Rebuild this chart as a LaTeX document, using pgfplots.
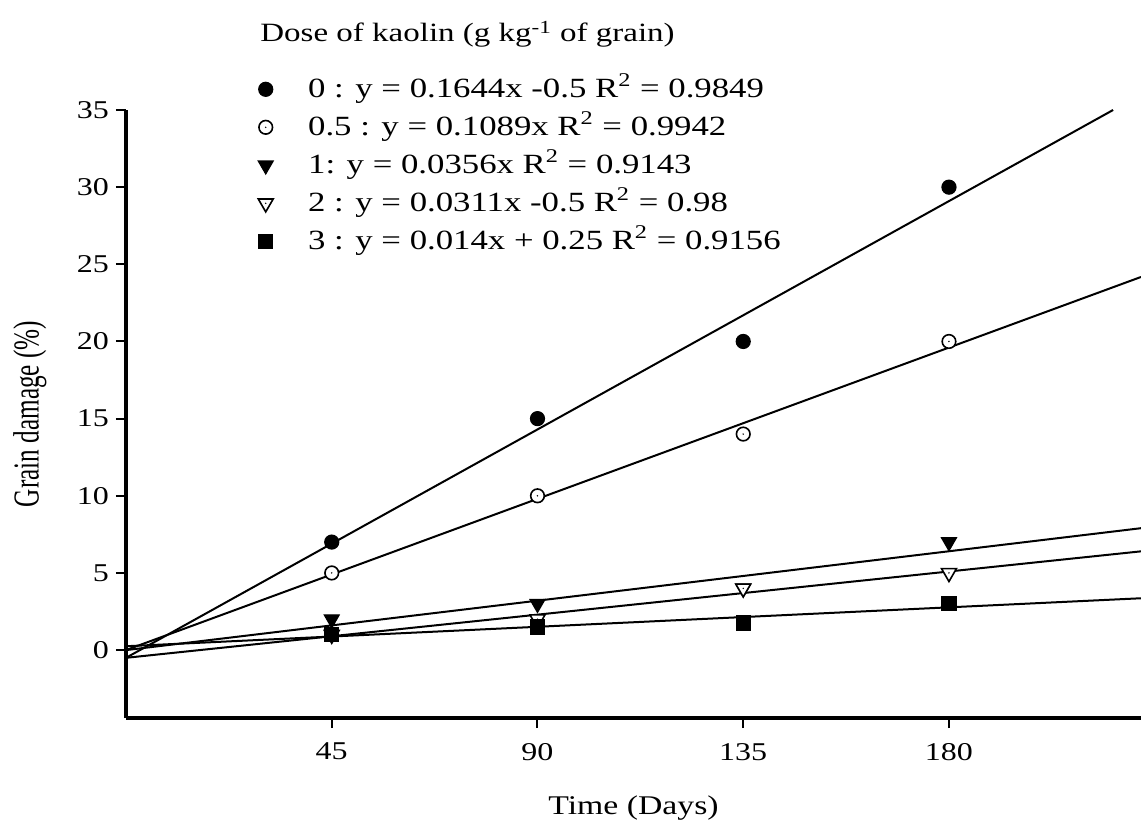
\documentclass[border=0pt]{standalone}
\usepackage{graphicx}
\usepackage{pgfplots}
\pgfplotsset{compat=1.18}
\usepackage{fontspec}
\setmainfont[FakeStretch=1.25]{Liberation Serif}
\newfontfamily\ylabfont{Liberation Serif}

\pgfdeclareplotmark{dotcircle}{%
  \pgfpathcircle{\pgfpointorigin}{\pgfplotmarksize}%
  \pgfusepathqfillstroke
  \pgfscope
  \pgfsetfillcolor{black}%
  \pgfpathcircle{\pgfpointorigin}{0.4pt}%
  \pgfusepathqfill
  \endpgfscope}
\pgfdeclareplotmark{dottriangle}{%
  \pgfpathmoveto{\pgfqpoint{0pt}{-\pgfplotmarksize}}%
  \pgfpathlineto{\pgfqpointpolar{30}{\pgfplotmarksize}}%
  \pgfpathlineto{\pgfqpointpolar{150}{\pgfplotmarksize}}%
  \pgfpathclose
  \pgfusepathqfillstroke
  \pgfscope
  \pgfsetfillcolor{black}%
  \pgfpathcircle{\pgfpointorigin}{0.4pt}%
  \pgfusepathqfill
  \endpgfscope}
\pgfdeclareplotmark{filltriangle}{%
  \pgfpathmoveto{\pgfqpoint{0pt}{-\pgfplotmarksize}}%
  \pgfpathlineto{\pgfqpointpolar{30}{\pgfplotmarksize}}%
  \pgfpathlineto{\pgfqpointpolar{150}{\pgfplotmarksize}}%
  \pgfpathclose
  \pgfusepathqfillstroke}

\begin{document}
\begin{tikzpicture}
\useasboundingbox (-63pt,-51pt) rectangle (507.5pt,359pt);
\begin{axis}[
  scale only axis, width=507.5pt, height=304pt,
  at={(0pt,0pt)}, anchor=south west,
  xmin=0, xmax=222, ymin=-4.4, ymax=35,
  axis lines*=left,
  axis line style={line width=2pt},
  xtick={45,90,135,180}, ytick={0,5,...,35},
  tick align=outside, major tick length=5pt,
  tick style={line width=1pt, black},
  ticklabel style={font=\fontsize{12.8}{14}\selectfont},
  xticklabel style={yshift=-4pt},
  /pgf/number format/assume math mode=true,
  xlabel={Time (Days)},
  xlabel style={font=\fontsize{13.5}{16}\selectfont, at={(axis description cs:0.5,0)}, anchor=base, yshift=-48pt},
  ylabel={\ylabfont\fontsize{12.6}{14}\selectfont\scalebox{1}[1.45]{Grain damage (\%)}},
  ylabel style={at={(axis description cs:-0.0946,0.5)}, anchor=center},
  clip=false,
  legend image code/.code={\draw[#1] plot coordinates {(0pt,0pt)}; \path (-4pt,0pt) (20pt,0pt);},
  legend cell align=left,
  legend style={at={(axis description cs:0.129,1.061)}, anchor=north west, draw=none, fill=none,
    inner sep=0pt, row sep=3pt, font=\fontsize{13.9}{16}\selectfont,
    nodes={text height=11pt, text depth=3pt, inner sep=1pt}},
]
% fitted regression lines
\addplot[black, line width=1pt, forget plot] coordinates {(0,-0.5) (215.9,35)};
\addplot[black, line width=1pt, forget plot] coordinates {(0,0) (222,24.18)};
\addplot[black, line width=1pt, forget plot] coordinates {(0,0) (222,7.90)};
\addplot[black, line width=1pt, forget plot] coordinates {(0,-0.5) (222,6.40)};
\addplot[black, line width=1pt, forget plot] coordinates {(0,0.25) (222,3.36)};
% observed data
\addplot[only marks, mark=*, mark size=3.5pt, mark options={fill=black, draw=black, line width=0.6pt}]
  coordinates {(45,7) (90,15) (135,20) (180,30)};
\addlegendentry{0 : y = 0.1644x -0.5 R\textsuperscript{2} = 0.9849}
\addplot[only marks, mark=dotcircle, mark size=3.4pt, mark options={fill=white, draw=black, line width=0.8pt}]
  coordinates {(45,5) (90,10) (135,14) (180,20)};
\addlegendentry{0.5 : y = 0.1089x R\textsuperscript{2} = 0.9942}
\addplot[only marks, mark=filltriangle, mark size=4.3pt, mark options={fill=black, draw=black, line width=0.6pt}]
  coordinates {(45,2) (90,3) (135,4) (180,7)};
\addlegendentry{1: y = 0.0356x R\textsuperscript{2} = 0.9143}
\addplot[only marks, mark=dottriangle, mark size=4.3pt, mark options={fill=white, draw=black, line width=0.8pt}]
  coordinates {(45,1) (90,2) (135,4) (180,5)};
\addlegendentry{2 : y = 0.0311x -0.5 R\textsuperscript{2} = 0.98}
\addplot[only marks, mark=square*, mark size=3.5pt, mark options={fill=black, draw=black, line width=0.6pt}]
  coordinates {(45,1) (90,1.5) (135,1.75) (180,3)};
\addlegendentry{3 : y = 0.014x + 0.25 R\textsuperscript{2} = 0.9156}
\node[anchor=base west, inner sep=0pt, font=\fontsize{13.2}{16}\selectfont] at (rel axis cs:0.132,1.112)
  {Dose of kaolin (g kg\textsuperscript{-1} of grain)};
\end{axis}
\end{tikzpicture}
\end{document}
